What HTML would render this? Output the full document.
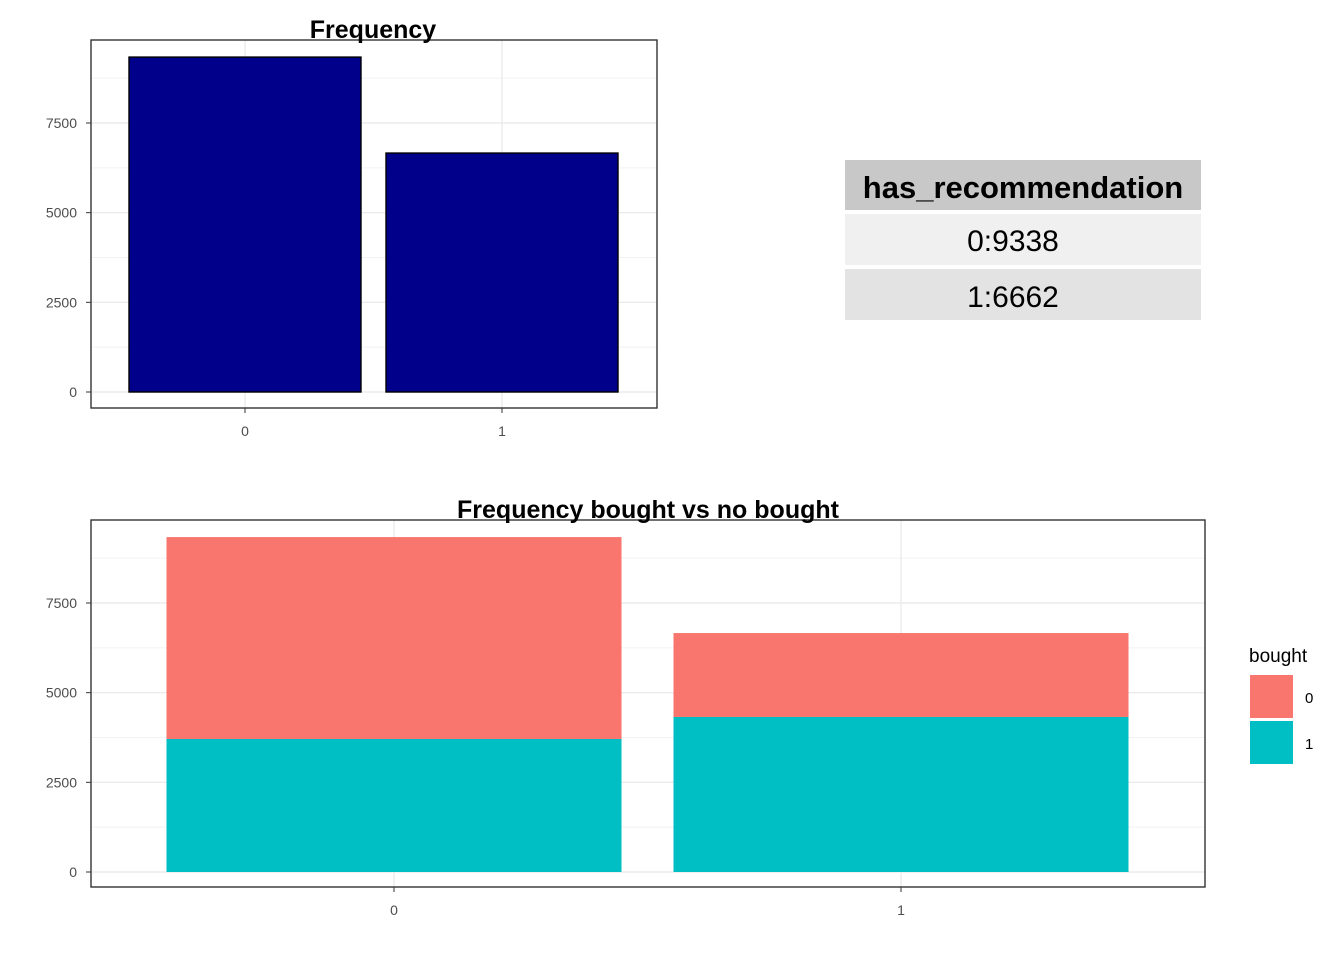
<!DOCTYPE html>
<html><head><meta charset="utf-8"><style>
body{margin:0;background:#fff;font-family:"Liberation Sans",sans-serif}
svg{display:block}
</style></head><body>
<svg id="s" width="1344" height="960" xmlns="http://www.w3.org/2000/svg" font-family="Liberation Sans, sans-serif">
<g>
<rect x="845" y="160" width="356" height="50" fill="#c8c8c8"/>
<text x="1023" y="198" text-anchor="middle" font-size="31" font-weight="bold">has_recommendation</text>
<rect x="845" y="214" width="356" height="51" fill="#f0f0f0"/>
<text x="1013" y="251" text-anchor="middle" font-size="30">0:9338</text>
<rect x="845" y="269" width="356" height="51" fill="#e3e3e3"/>
<text x="1013" y="307" text-anchor="middle" font-size="30">1:6662</text>
</g>
</svg>
<script>
const topCats=["0","1"];
const topVals=[9338,6662];
const botCats=["0","1"];
const bought0=[5630,2340];
const bought1=[3708,4322];
const yTicks=[0,2500,5000,7500];
const legendKeys=["0","1"];
const svg=document.getElementById('s');
const NS="http://www.w3.org/2000/svg";
function el(t,a,p){const e=document.createElementNS(NS,t);for(const k in a)e.setAttribute(k,a[k]);(p||svg).appendChild(e);return e;}
function panel(L,R,T,B,y0,y7500,centers,title,titleX,name){
  const g=el('g',{});
  
  
  const y=v=>y0-(y0-y7500)*v/7500;
  for(let v=1250;v<10000;v+=2500){if(y(v)>T)el('line',{x1:L,x2:R,y1:y(v),y2:y(v),stroke:'#f2f2f2','stroke-width':1},g);}
  yTicks.forEach(v=>el('line',{x1:L,x2:R,y1:y(v),y2:y(v),stroke:'#ebebeb','stroke-width':1.4},g));
  centers.forEach(c=>el('line',{x1:c,x2:c,y1:T,y2:B,stroke:'#ebebeb','stroke-width':1.4},g));
  return {g,y};
}
function axes(g,L,R,T,B,y,centers,cats,title,titleX){
  el('rect',{x:L,y:T,width:R-L,height:B-T,fill:'none',stroke:'#333','stroke-width':1.4},g);
  yTicks.forEach(v=>{
    el('line',{x1:L-5,x2:L,y1:y(v),y2:y(v),stroke:'#333'},g);
    const t=el('text',{x:L-14,y:y(v)+5,'text-anchor':'end','font-size':14,fill:'#4d4d4d'},g);
    
    
    t.textContent=v;
  });
  centers.forEach((c,i)=>{
    el('line',{x1:c,x2:c,y1:B,y2:B+5,stroke:'#333'},g);
    const t=el('text',{x:c,y:B+28,'text-anchor':'middle','font-size':14,fill:'#4d4d4d'},g);
    
    
    t.textContent=cats[i];
  });
  const tt=el('text',{x:titleX,y:T-2,'text-anchor':'middle','font-size':25,'font-weight':'bold'},g);
  
  
  tt.textContent=title;
}
// top chart
{
  const L=91,R=657,T=40,B=408,y0=392,y75=123;
  const step=(R-L)/(topCats.length+0.2);
  const centers=topCats.map((c,i)=>L+step*(0.6+i)+ (i?0:0));
  const cx=[245,502];
  const band=257,bw=232;
  const x=i=>245+band*i;
  const cs=topCats.map((c,i)=>x(i));
  const {g,y}=panel(L,R,T,B,y0,y75,cs,'','', 'frequency-chart');
  topVals.forEach((v,i)=>{
    const r=el('rect',{x:x(i)-bw/2,y:y(v),width:bw,height:y0-y(v),fill:'#00008b',stroke:'#000','stroke-width':1.4},g);
    
    
  });
  axes(g,L,R,T,B,y,cs,topCats,'Frequency',373);
}
// bottom chart
{
  const L=91,R=1205,T=520,B=887,y0=872,y75=603;
  const band=507,bw=455;
  const x=i=>394+band*i;
  const cs=botCats.map((c,i)=>x(i));
  const {g,y}=panel(L,R,T,B,y0,y75,cs,'','','bought-chart');
  botCats.forEach((c,i)=>{
    const b1=bought1[i],b0=bought0[i];
    const r1=el('rect',{x:x(i)-bw/2,y:y(b1),width:bw,height:y0-y(b1),fill:'#00bfc4'},g);
    
    
    const r0=el('rect',{x:x(i)-bw/2,y:y(b1+b0),width:bw,height:y(b1)-y(b1+b0),fill:'#f8766d'},g);
    
    
  });
  axes(g,L,R,T,B,y,cs,botCats,'Frequency bought vs no bought',648);
  const lg=el('g',{});
  
  
  const lt=el('text',{x:1249,y:662,'font-size':19},lg);
  
  
  lt.textContent='bought';
  const cols=['#f8766d','#00bfc4'];
  legendKeys.forEach((k,i)=>{
    const r=el('rect',{x:1250,y:675+i*46,width:43,height:43,fill:cols[i]},lg);
    
    
    const t=el('text',{x:1305,y:703+i*46,'font-size':15},lg);
    
    
    t.textContent=k;
  });
}
</script>
</body></html>
